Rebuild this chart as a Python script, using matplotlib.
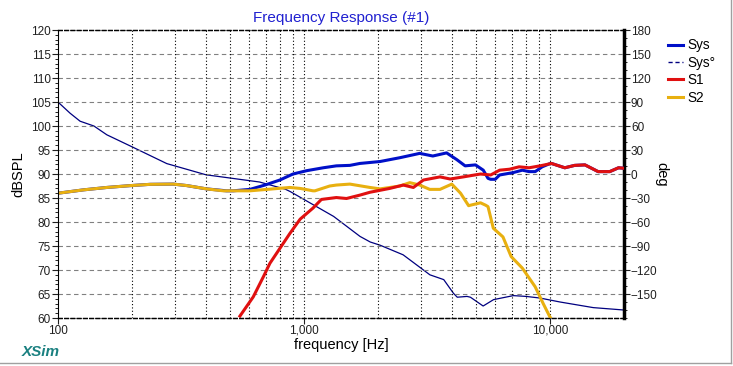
import matplotlib
matplotlib.use('Agg')
import matplotlib.pyplot as plt
from matplotlib.lines import Line2D
from matplotlib.ticker import MultipleLocator, NullFormatter, NullLocator
import numpy as np

plt.rcParams['font.family'] = ['Liberation Sans', 'DejaVu Sans']

# S2 (tweeter) magnitude, dB
s2_freq = [100, 127, 158, 199, 237, 294, 333, 402, 470, 484, 603, 876, 965, 1088,
           1108, 1272, 1354, 1537, 1855, 2037, 2455, 2693, 2955, 3245, 3572, 3990,
           4331, 4670, 4750, 5220, 5478, 5600, 5885, 6440, 6955, 7720, 8710, 9390,
           9980, 10200]
s2_db = [86.0, 86.7, 87.2, 87.6, 87.85, 87.9, 87.6, 86.9, 86.5, 86.5, 86.5, 87.2, 87.0, 86.5,
         86.5, 87.5, 87.7, 87.9, 87.2, 86.9, 87.5, 88.2, 87.7, 86.8, 86.8, 87.9,
         86.0, 83.4, 83.5, 84.0, 83.5, 83.2, 78.7, 76.9, 72.8, 70.4, 66.5, 63.0,
         60.3, 59.5]

# S1 (woofer) magnitude, dB
s1_freq = [549, 622, 684, 727, 798, 876, 965, 1088, 1177, 1354, 1489, 1687, 1855,
           2232, 2533, 2785, 3060, 3572, 3930, 4446, 5220, 5740, 6245, 6850, 7490,
           8220, 9107, 10140, 11490, 12610, 13880, 15700, 17500, 19000, 20000]
s1_db = [60.4, 64.4, 68.6, 71.4, 74.5, 77.6, 80.6, 82.9, 84.7, 85.1, 84.9, 85.6, 86.2,
         87.0, 87.7, 87.2, 88.75, 89.4, 88.96, 89.4, 90.0, 89.8, 90.8, 91.0, 91.5,
         91.3, 91.7, 92.2, 91.3, 91.8, 91.9, 90.5, 90.5, 91.3, 91.2]

# System magnitude, dB
sys_freq = [100, 127, 158, 199, 237, 294, 333, 402, 484, 516, 603, 694, 798, 902,
            1027, 1198, 1354, 1537, 1687, 2037, 2455, 2955, 3340, 3800, 4180, 4520,
            4980, 5357, 5600, 5740, 5990, 6245, 7095, 7720, 8220, 8710, 9300, 9920,
            10140, 11490, 12610, 13880, 15700, 17500, 19000, 20000]
sys_db = [86.0, 86.7, 87.2, 87.6, 87.85, 87.9, 87.6, 86.9, 86.5, 86.5, 86.8, 87.7, 88.75, 90.0,
          90.7, 91.3, 91.7, 91.8, 92.2, 92.6, 93.4, 94.3, 93.75, 94.4, 93.0, 91.7,
          91.9, 90.8, 89.1, 88.9, 88.9, 89.8, 90.3, 90.8, 90.5, 90.5, 91.5, 92.1,
          92.2, 91.3, 91.8, 91.9, 90.5, 90.5, 91.3, 91.2]

# System phase, deg
ph_freq = [100, 112, 123, 140, 158, 200, 277, 400, 500, 660, 840, 880, 1320, 1690, 1860, 2040,
           2530, 3000, 3250, 3700, 4050, 4200, 4600, 4750, 5350, 5900, 7100, 8000,
           9100, 11000, 15000, 20000]
ph_deg = [90, 76, 66, 60, 49, 34, 13, -1, -5, -10, -19, -22, -53, -78, -85, -89,
          -101, -118, -126, -132, -149, -154, -153, -154, -165, -157, -152, -153,
          -155, -160, -167, -170]

c_sys = '#0010c8'
c_ph = '#000080'
c_s1 = '#e01010'
c_s2 = '#e8b010'

fig = plt.figure(figsize=(7.33, 3.66), dpi=100)
ax = fig.add_axes([0.0791, 0.1311, 0.7722, 0.7869])
ax2 = ax.twinx()
ax.set_zorder(ax2.get_zorder() + 1)
ax.patch.set_visible(False)

ax2.plot(ph_freq, ph_deg, color=c_ph, lw=0.9)
ax.plot(sys_freq, sys_db, color=c_sys, lw=2.2)
ax.plot(s2_freq, s2_db, color=c_s2, lw=2.2)
ax.plot(s1_freq, s1_db, color=c_s1, lw=2.2)

ax.set_xscale('log')
ax.set_xlim(100, 20000)
ax.set_ylim(60, 120)
ax2.set_ylim(-180, 180)

# grid
for y in range(65, 120, 5):
    ax.axhline(y, color='#808080', lw=0.8, ls=(0, (4, 3)), zorder=0)
grid_f = [200, 300, 400, 500, 600, 700, 800, 900, 1000,
          2000, 3000, 4000, 5000, 6000, 7000, 8000, 9000, 10000]
for f in grid_f:
    ax.axvline(f, color='black', lw=0.8, ls=(0, (1, 2)), zorder=0)

# ticks
ax.set_xticks([100, 1000, 10000])
ax.set_xticklabels(['100', '1,000', '10,000'])
ax.xaxis.set_minor_locator(NullLocator())
ax.xaxis.set_minor_formatter(NullFormatter())
ax.yaxis.set_major_locator(MultipleLocator(5))
ax.yaxis.set_minor_locator(MultipleLocator(1))
ax.tick_params(axis='both', which='major', labelsize=8.5, length=4, width=0.8,
               colors='#202020', pad=1)
ax.tick_params(axis='y', which='minor', length=2, width=0.6)
ax2.set_yticks(range(-150, 181, 30))
ax2.yaxis.set_minor_locator(MultipleLocator(10))
ax2.tick_params(axis='y', which='major', labelsize=8.5, length=4, width=0.8,
                colors='#202020', pad=1)
ax2.tick_params(axis='y', which='minor', length=2, width=0.6)

for a in (ax, ax2):
    a.spines['top'].set_linestyle((0, (3, 2)))
    a.spines['bottom'].set_linestyle((0, (3, 2)))
    a.spines['top'].set_linewidth(0.9)
    a.spines['bottom'].set_linewidth(0.9)
ax.spines['left'].set_linewidth(0.8)
ax.spines['right'].set_visible(False)
ax2.spines['left'].set_visible(False)
ax2.spines['right'].set_linewidth(2.5)

ax.set_title('Frequency Response (#1)', color='#2020d0', fontsize=11, pad=6)
ax.set_xlabel('frequency [Hz]', fontsize=10.5, labelpad=1)
ax.set_ylabel('dBSPL', fontsize=10.5, labelpad=4)
ax2.set_ylabel('deg', fontsize=10.5, rotation=270, labelpad=8)

handles = [Line2D([], [], color=c_sys, lw=2.2),
           Line2D([], [], color=c_ph, lw=1, ls=(0, (3, 2))),
           Line2D([], [], color=c_s1, lw=2.2),
           Line2D([], [], color=c_s2, lw=2.2)]
fig.legend(handles, ['Sys', 'Sys°', 'S1', 'S2'], loc='upper left',
           bbox_to_anchor=(0.911, 0.895), frameon=False, fontsize=9.8,
           handlelength=1.15, handletextpad=0.33, labelspacing=0.25,
           borderaxespad=0, borderpad=0)

fig.text(0.03, 0.027, 'XSim', color='#1a8080', fontsize=11,
         fontweight='bold', fontstyle='italic')

# frame lines at right and bottom edge
fig.add_artist(Line2D([0, 0.997], [0.008, 0.008], color='#a0a0a0', lw=1,
                      transform=fig.transFigure))
fig.add_artist(Line2D([0.997, 0.997], [0.008, 1], color='#a0a0a0', lw=1,
                      transform=fig.transFigure))

fig.savefig('out.png', dpi=100)
